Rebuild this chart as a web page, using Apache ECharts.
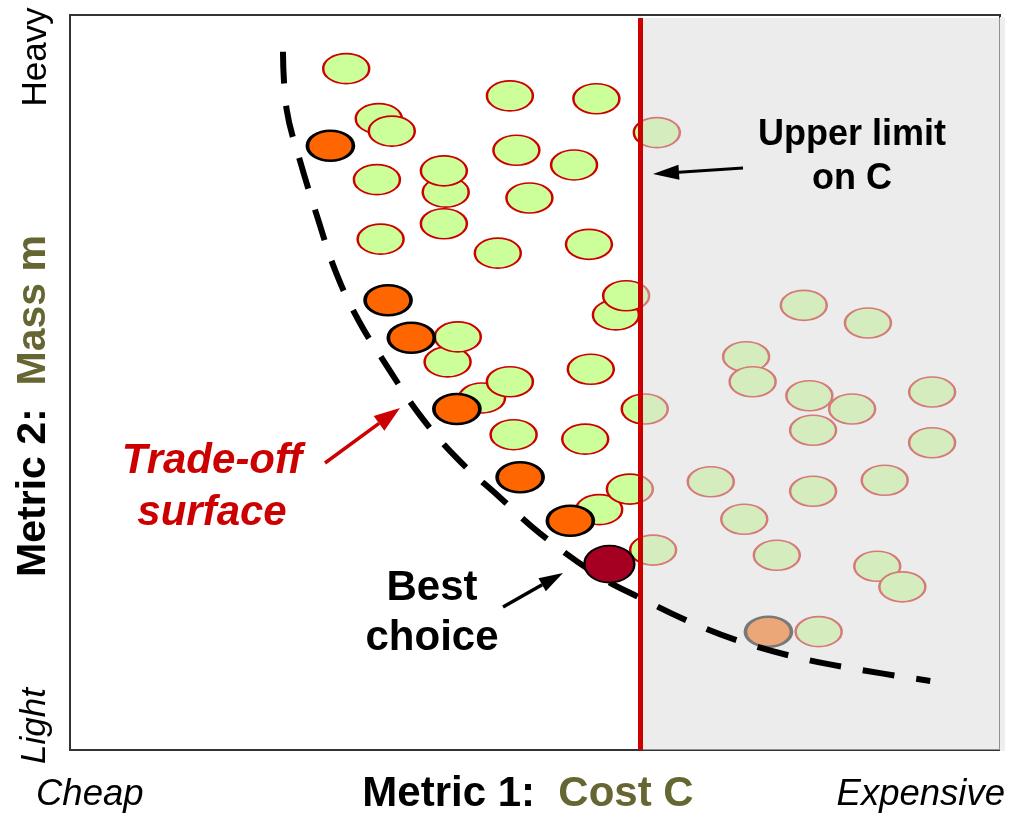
<!DOCTYPE html>
<html>
<head>
<meta charset="utf-8">
<script src="https://cdn.jsdelivr.net/npm/echarts@6/dist/echarts.min.js"></script>
<style>
  html, body { margin: 0; padding: 0; background: #fff; }
  #chart { width: 1032px; height: 817px; }
</style>
</head>
<body>
<div id="chart"></div>
<script>
// candidate designs, cost (0-100) against mass (0-100)
const greenCost = [29.7, 47.3, 56.6, 33.2, 34.6, 48.0, 54.2, 40.4, 40.2, 33.0, 49.4, 40.2, 33.4, 46.0, 55.8,
  58.7, 59.8, 40.6, 41.7, 56.0, 44.3, 47.3, 61.8, 47.7, 55.4, 56.9, 60.2, 62.7, 63.1,
  78.9, 85.8, 72.7, 73.4, 79.5, 84.1, 92.7, 79.9, 92.7, 68.9, 79.9, 87.6, 72.5, 76.0, 86.8, 89.5, 80.5];
const greenMass = [92.7, 89.0, 88.6, 85.9, 84.2, 81.6, 79.6, 75.9, 78.8, 77.6, 75.1, 71.6, 69.5, 67.6, 68.8,
  59.2, 61.8, 52.8, 56.2, 51.8, 47.9, 50.1, 46.4, 42.9, 42.3, 32.7, 35.5, 27.2, 84.0,
  60.5, 58.1, 53.5, 50.1, 48.2, 46.4, 48.7, 43.5, 41.8, 36.5, 35.2, 36.7, 31.4, 26.5, 25.0, 22.2, 16.1];
// designs on the trade-off surface
const paretoCost = [28.0, 34.2, 36.7, 41.6, 48.4, 53.8, 75.1];
const paretoMass = [82.2, 61.2, 56.1, 46.4, 37.1, 31.2, 16.1];
const bestCost = [58.0];
const bestMass = [25.3];
// dashed trade-off curve
const curveCost = [22.9, 23.3, 24.7, 26.6, 28.5, 31.0, 34.2, 37.6, 41.6, 46.2, 50.5, 56.7, 61.3, 66.7, 72.0, 78.5, 85.0, 92.5];
const curveMass = [95.0, 87.1, 80.3, 72.5, 65.3, 58.5, 52.0, 45.6, 39.7, 34.4, 29.5, 23.8, 20.7, 17.4, 14.8, 12.5, 10.9, 9.4];
const costLimit = 61.3;

const zip = (xs, ys) => xs.map((x, i) => [x, ys[i]]);
const ELLIPSE = 'path://M0,30A50,30 0 1,1 100,30A50,30 0 1,1 0,30Z';
const FONT = "'Liberation Sans', Arial, sans-serif";

const chart = echarts.init(document.getElementById('chart'), null, { renderer: 'canvas' });

const arrow = (x1, y1, x2, y2, color, width, headLen, headW) => {
  const a = Math.atan2(y2 - y1, x2 - x1);
  const bx = x2 - headLen * Math.cos(a), by = y2 - headLen * Math.sin(a);
  const px = -Math.sin(a) * headW / 2, py = Math.cos(a) * headW / 2;
  return [
    { type: 'line', z: 100, shape: { x1: x1, y1: y1, x2: bx, y2: by }, style: { stroke: color, lineWidth: width } },
    { type: 'polygon', z: 100, shape: { points: [[x2, y2], [bx + px, by + py], [bx - px, by - py]] }, style: { fill: color } }
  ];
};

const txt = (x, y, text, font, fill, align, lineHeight, rotation) => ({
  type: 'text', z: 100, x: x, y: y, rotation: rotation || 0,
  style: { text: text, font: font, fill: fill, align: align || 'center', verticalAlign: 'middle', lineHeight: lineHeight }
});

const twoTone = (x, y, a, b, size, rotation) => {
  const f = 'bold ' + size + 'px ' + FONT;
  return {
    type: 'text', z: 100, x: x, y: y, rotation: rotation || 0,
    style: {
      text: '{a|' + a + '}  {b|' + b + '}', font: f, align: 'center', verticalAlign: 'middle',
      rich: { a: { fill: '#000', font: f }, b: { fill: '#666633', font: f } }
    }
  };
};

const option = {
  animation: false,
  backgroundColor: '#fff',
  grid: { left: 70, top: 15, right: 32, bottom: 67, show: true, borderColor: '#333', borderWidth: 2 },
  xAxis: { type: 'value', min: 0, max: 100, show: false },
  yAxis: { type: 'value', min: 0, max: 100, show: false },
  series: [
    {
      type: 'scatter', z: 2, symbol: ELLIPSE, symbolSize: [46, 30],
      itemStyle: { color: '#ccff99', borderColor: '#cc0000', borderWidth: 2, opacity: 1 },
      data: zip(greenCost, greenMass)
    },
    {
      type: 'scatter', z: 2, symbol: ELLIPSE, symbolSize: [46, 30],
      itemStyle: { color: '#ff6600', borderColor: '#000', borderWidth: 3, opacity: 1 },
      data: zip(paretoCost, paretoMass)
    },
    {
      // gray veil over the too-expensive region, on top of the points
      type: 'scatter', z: 3, data: [], silent: true,
      markArea: {
        z: 10, silent: true,
        itemStyle: { color: 'rgb(220,220,220)', opacity: 0.55 },
        data: [[{ coord: [costLimit, 0] }, { coord: [100, 99.6] }]]
      }
    },
    {
      type: 'scatter', z: 4, data: [], silent: true,
      markLine: {
        z: 11, silent: true, symbol: 'none', label: { show: false },
        lineStyle: { color: '#cc0000', width: 5, type: 'solid' },
        data: [[{ coord: [costLimit, 0] }, { coord: [costLimit, 99.6] }]]
      }
    },
    {
      type: 'line', z: 12, showSymbol: false, smooth: 0.4,
      lineStyle: { color: '#000', width: 6, type: [32, 22], cap: 'butt' },
      data: zip(curveCost, curveMass)
    },
    {
      type: 'scatter', z: 13, symbol: ELLIPSE, symbolSize: [50, 37],
      itemStyle: { color: '#a50021', borderColor: '#000', borderWidth: 2, opacity: 1 },
      data: zip(bestCost, bestMass)
    }
  ],
  graphic: [
    { type: 'rect', z: 1, shape: { x: 1000, y: 17, width: 5, height: 734 }, style: { fill: '#eeeeee' } },
    txt(852, 157, 'Upper limit\non C', 'bold 36px ' + FONT, '#000', 'center', 44),
    ...arrow(743, 168, 653, 174, '#000', 3, 26, 15),
    txt(212, 487, 'Trade-off\nsurface', 'italic bold 42px ' + FONT, '#cc0000', 'center', 52),
    ...arrow(325, 463, 400, 408, '#cc0000', 3.5, 26, 18),
    txt(432, 613, 'Best\nchoice', 'bold 42px ' + FONT, '#000', 'center', 50),
    ...arrow(503, 607, 563, 573, '#000', 3.5, 24, 15),
    txt(36, 795, 'Cheap', 'italic 36.5px ' + FONT, '#000', 'left'),
    txt(1005, 795, 'Expensive', 'italic 36.5px ' + FONT, '#000', 'right'),
    twoTone(528, 794, 'Metric 1:', 'Cost C', 42),
    txt(36, 57, 'Heavy', '35px ' + FONT, '#000', 'center', null, Math.PI / 2),
    txt(35, 726, 'Light', 'italic 35px ' + FONT, '#000', 'center', null, Math.PI / 2),
    twoTone(34, 406, 'Metric 2:', 'Mass m', 41, Math.PI / 2)
  ]
};

chart.setOption(option);
</script>
</body>
</html>
